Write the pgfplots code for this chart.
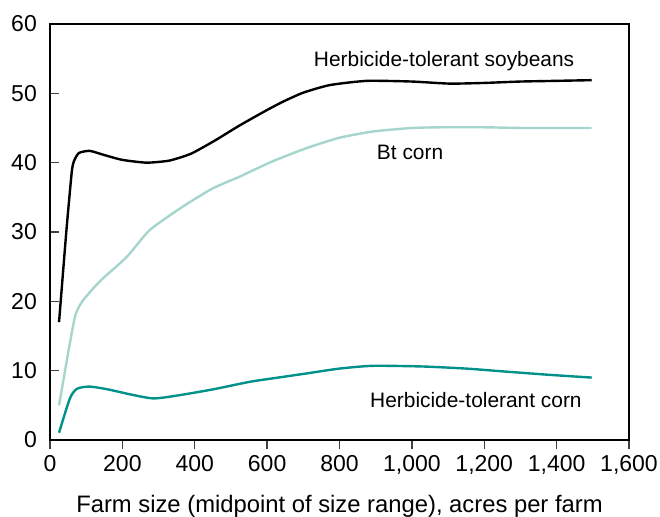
\documentclass[border=0pt]{standalone}
\usepackage{pgfplots}
\pgfplotsset{compat=1.18}
\usepackage{fontspec}
\setmainfont{Liberation Sans}
\definecolor{ltteal}{RGB}{166,213,205}
\definecolor{dkteal}{RGB}{0,145,138}
\begin{document}
\begin{tikzpicture}
\begin{axis}[
  scale only axis,
  width=579pt, height=416pt,
  xmin=0, xmax=1600, ymin=0, ymax=60,
  xtick={0,200,...,1600},
  ytick={0,10,...,60},
  tick pos=left,
  tick align=outside,
  major tick length=9pt,
  axis line style={line width=1.8pt},
  every tick/.style={line width=1.3pt, black!75},
  ytick style={xshift=9pt},
  /pgf/number format/assume math mode=true,
  /pgf/number format/1000 sep={,},
  scaled ticks=false,
  ticklabel style={font=\fontsize{23}{27}\selectfont},
  yticklabel style={inner sep=0pt, xshift=-4pt},
  xticklabel style={inner sep=0pt, yshift=-6pt},
  xlabel={Farm size (midpoint of size range), acres per farm},
  xlabel style={font=\fontsize{23.8}{28}\selectfont, at={(0.5,0)}, anchor=base, yshift=-72pt},
  clip=false,
]
\addplot[black, line width=2.4pt, smooth, tension=0.35] coordinates {
(25,17.0) (45,30) (60,38.6) (66,40.2) (80,41.4) (110,41.7) (150,41.1) (200,40.4) (267,40.0) (330,40.3) (390,41.3) (456,43.2) (525,45.4) (600,47.6) (644,48.8) (700,50.1) (774,51.2) (876,51.8) (1000,51.7) (1105,51.4) (1200,51.5) (1300,51.7) (1400,51.8) (1497,51.9)
};
\addplot[ltteal, line width=2.4pt, smooth, tension=0.35] coordinates {
(25,5.0) (50,12.5) (70,18.0) (92,20.2) (140,23.0) (212,26.4) (276,30.3) (368,33.7) (450,36.3) (525,38.0) (553,38.7) (620,40.3) (709,42.1) (800,43.6) (893,44.5) (1000,45.0) (1078,45.1) (1200,45.1) (1307,45.0) (1400,45.0) (1497,45.0)
};
\addplot[dkteal, line width=2.4pt, smooth, tension=0.4] coordinates {
(25,1.05) (55,6.0) (75,7.4) (110,7.7) (160,7.3) (220,6.6) (285,6.0) (350,6.4) (450,7.3) (553,8.4) (630,9.0) (709,9.6) (800,10.3) (893,10.7) (1031,10.6) (1150,10.3) (1263,9.85) (1380,9.4) (1497,9.0)
};
\node[anchor=base, font=\fontsize{20.9}{25}\selectfont] at (axis cs:1089,53.85) {Herbicide-tolerant soybeans};
\node[anchor=base, font=\fontsize{20.9}{25}\selectfont] at (axis cs:995,40.5) {Bt corn};
\node[anchor=base, font=\fontsize{20.9}{25}\selectfont] at (axis cs:1177,4.66) {Herbicide-tolerant corn};
\end{axis}
\pgfresetboundingbox
\useasboundingbox ([shift={(-50pt,-76pt)}]current axis.south west) rectangle ([shift={(31pt,24pt)}]current axis.north east);
\end{tikzpicture}
\end{document}
